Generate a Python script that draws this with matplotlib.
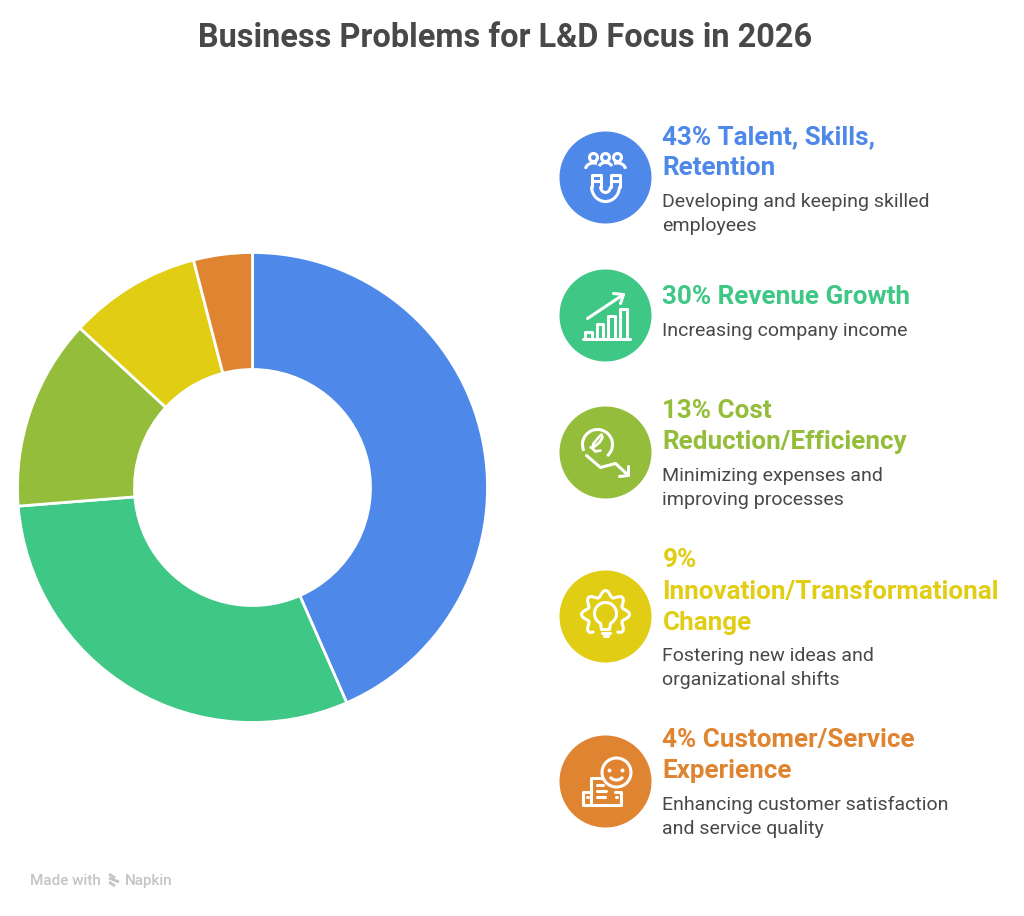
import numpy as np
import matplotlib
matplotlib.use("Agg")
import matplotlib.pyplot as plt
from matplotlib.patches import Circle, Arc

W, H = 1024, 916

title = "Business Problems for L&D Focus in 2026"
values = [43, 30, 13, 9, 4]
colors = ["#4E88E8", "#3EC785", "#93BD3A", "#E0CD14", "#DF8430"]
headings = [
    ["43% Talent, Skills,", "Retention"],
    ["30% Revenue Growth"],
    ["13% Cost", "Reduction/Efficiency"],
    ["9%", "Innovation/Transformational", "Change"],
    ["4% Customer/Service", "Experience"],
]
bodies = [
    ["Developing and keeping skilled", "employees"],
    ["Increasing company income"],
    ["Minimizing expenses and", "improving processes"],
    ["Fostering new ideas and", "organizational shifts"],
    ["Enhancing customer satisfaction", "and service quality"],
]
heading_y = [[135, 166], [295], [409, 440], [558, 590, 621], [738, 769]]
body_y = [[201, 225], [330], [475, 499], [655, 679], [804, 828]]
icon_y = [177.5, 315.5, 452.5, 616.5, 781.5]

fig = plt.figure(figsize=(W / 100, H / 100), dpi=100, facecolor="white")
ax = fig.add_axes([0, 0, 1, 1])


def Y(py):
    # picture pixels run downward, the axes run upward
    return H - py


ax.pie(values, colors=colors, center=(252.5, Y(487.5)), radius=235, startangle=90,
       counterclock=False, wedgeprops=dict(width=117, edgecolor="white", linewidth=2))
ax.set_xlim(0, W)
ax.set_ylim(0, H)
ax.axis("off")

ax.text(505, Y(47), title, ha="center", va="baseline", fontsize=23.45,
        fontweight="bold", family="Roboto", color="#484848")

TEXT_X = 662.5
for i in range(len(values)):
    for line, py in zip(headings[i], heading_y[i]):
        ax.text(TEXT_X, Y(py + 9), line, ha="left", va="baseline", fontsize=18.7,
                fontweight="bold", family="Roboto", color=colors[i])
    for line, py in zip(bodies[i], body_y[i]):
        ax.text(TEXT_X, Y(py + 6), line, ha="left", va="baseline", fontsize=14,
                family="Roboto", color="#484848")


ICON_X = 605.5
LW = 2.2


def stroke(cy, pts, lw=LW):
    # offsets from the icon centre, y down
    xs = [ICON_X + p[0] for p in pts]
    ys = [Y(cy + p[1]) for p in pts]
    ax.plot(xs, ys, color="white", lw=lw, solid_capstyle="round", solid_joinstyle="round", zorder=5)


def ring(cy, x, y, r, lw=LW):
    ax.add_patch(Circle((ICON_X + x, Y(cy + y)), r, fill=False, ec="white", lw=lw, zorder=5))


def arc(cy, x, y, w, h, a1, a2, lw=LW):
    ax.add_patch(Arc((ICON_X + x, Y(cy + y)), w, h, theta1=a1, theta2=a2, ec="white", lw=lw, zorder=5))


def box(cy, x0, y0, x1, y1, lw=LW):
    stroke(cy, [(x0, y1), (x0, y0), (x1, y0), (x1, y1)], lw)


def magnet(cy):
    for dx in (-12, 0, 12):
        ring(cy, dx, -20, 4)
    arc(cy, -12, -8, 16, 13, 60, 175)
    arc(cy, 12, -8, 16, 13, 5, 120)
    arc(cy, 0, -9, 14, 12, 20, 160)
    arc(cy, 0, 9, 28, 30, 180, 360)
    arc(cy, 0, 9, 10, 12, 180, 360)
    stroke(cy, [(-14, 9), (-14, -3), (-5, -3), (-5, 9)])
    stroke(cy, [(14, 9), (14, -3), (5, -3), (5, 9)])
    stroke(cy, [(-14, 3), (-5, 3)])
    stroke(cy, [(14, 3), (5, 3)])


def growth(cy):
    stroke(cy, [(-23, 23), (24, 23)])
    for x0, x1, top in [(-21, -14, 16), (-9, -3, 8), (2, 9, 0), (14, 21, -7)]:
        box(cy, x0, top, x1, 23)
    stroke(cy, [(-18, 3), (18, -21)])
    stroke(cy, [(8, -22), (18, -21), (15, -12)])


def coin(cy):
    arc(cy, -8, -8, 30, 30, -50, 205)
    stroke(cy, [(-19, 3), (-5, 15), (10, 11), (23, 23)])
    stroke(cy, [(23, 14), (23, 23), (14, 24)])
    stroke(cy, [(-5, -2), (-10, -1), (-13, -4), (-12, -9), (-7, -15), (-4, -18),
                (-3, -15), (-6, -10), (-11, -6), (-15, -5)], 1.9)


def bulb(cy):
    t = np.radians(np.linspace(-55, 235, 240))
    r = 21 + 3 * np.cos(8 * (t - np.pi / 2))
    stroke(cy, list(zip(r * np.cos(t), -2 - r * np.sin(t))))
    arc(cy, 0, -3, 22, 22, -60, 240)
    stroke(cy, [(-5, 7), (-4, 13), (4, 13), (5, 7)])
    stroke(cy, [(-4, 16), (4, 16)])
    stroke(cy, [(-2, 19), (2, 19)])


def customer(cy):
    ring(cy, 11, -9, 14.5)
    ring(cy, 4, -11, 0.9, 1.5)
    ring(cy, 17, -11, 0.9, 1.5)
    arc(cy, 11, -7, 14, 11, 200, 340)
    stroke(cy, [(-15, 10), (-23, 10), (-23, 23), (15, 23), (15, 10), (9, 10)])
    stroke(cy, [(-15, 23), (-15, -4), (-4, -4)])
    stroke(cy, [(-9, 3), (-3, 3)])
    stroke(cy, [(-9, 15), (-1, 15)])
    stroke(cy, [(-9, 9), (0, 9)])
    stroke(cy, [(-19, 15), (-18, 15)])
    stroke(cy, [(10, 15), (11, 15)])


icons = [magnet, growth, coin, bulb, customer]
for c, cy, draw in zip(colors, icon_y, icons):
    ax.add_patch(Circle((ICON_X, Y(cy)), 46, fc=c, ec="none", zorder=4))
    draw(cy)

ax.text(30, Y(885), "Made with", ha="left", va="baseline", fontsize=11,
        fontweight="medium", family="Roboto", color="#C4C4C4")
ax.text(125, Y(885), "Napkin", ha="left", va="baseline", fontsize=11,
        fontweight="medium", family="Roboto", color="#C4C4C4")
for py, x1 in [(876, 115), (880, 119), (884, 115)]:
    ax.plot([109, x1], [Y(py - 2), Y(py + 2)], color="#C4C4C4", lw=2, solid_capstyle="butt")

fig.savefig("out.png", dpi=100, facecolor="white")
